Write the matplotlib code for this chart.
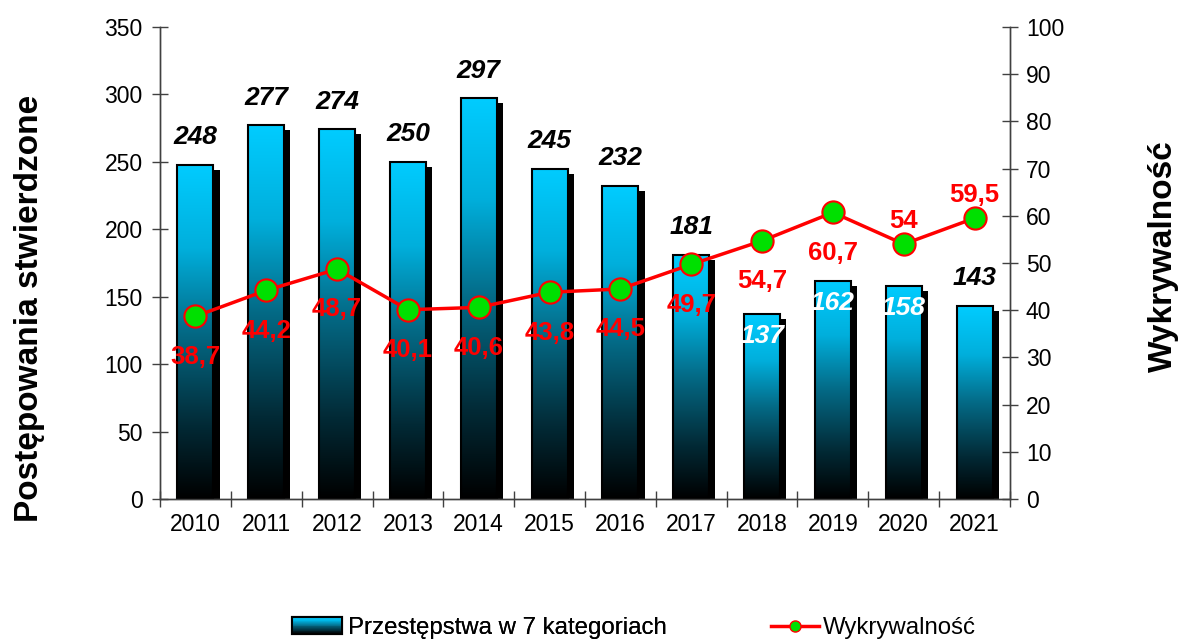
import matplotlib
matplotlib.use("Agg")
import matplotlib.pyplot as plt
import numpy as np
from matplotlib.patches import Rectangle
from matplotlib.lines import Line2D
from matplotlib.legend_handler import HandlerBase
from matplotlib.colors import LinearSegmentedColormap

plt.rcParams['font.family'] = ['Liberation Sans', 'DejaVu Sans']

years = ['2010', '2011', '2012', '2013', '2014', '2015', '2016', '2017', '2018', '2019', '2020', '2021']
crimes = [248, 277, 274, 250, 297, 245, 232, 181, 137, 162, 158, 143]
detection = [38.7, 44.2, 48.7, 40.1, 40.6, 43.8, 44.5, 49.7, 54.7, 60.7, 54, 59.5]
crime_labels = ['248', '277', '274', '250', '297', '245', '232', '181', '137', '162', '158', '143']
det_labels = ['38,7', '44,2', '48,7', '40,1', '40,6', '43,8', '44,5', '49,7', '54,7', '60,7', '54', '59,5']
inside_label = [False, False, False, False, False, False, False, False, True, True, True, False]
det_above = [False] * 10 + [True, True]

cmap = LinearSegmentedColormap.from_list(
    'barg', [(0.0, '#000000'), (0.22, '#022a36'), (0.5, '#046a86'),
             (0.75, '#00afdc'), (1.0, '#00ccff')])

fig = plt.figure(figsize=(11.91, 6.42), dpi=100)
ax = fig.add_axes([160 / 1191, 1 - 499 / 642, 850 / 1191, 472 / 642])
ax2 = ax.twinx()

axis_color = '#404040'
w = 0.51
dx = 0.085
dy = 3.7
grad = np.linspace(0, 1, 256).reshape(-1, 1)
for i, h in enumerate(crimes):
    x0 = i - w / 2
    ax.add_patch(Rectangle((x0 + dx, 0), w, h - dy, facecolor='black', edgecolor='none', zorder=1))
    ax.imshow(grad, cmap=cmap, origin='lower', aspect='auto',
              extent=[x0, x0 + w, 0, h], zorder=2, interpolation='bilinear')
    ax.add_patch(Rectangle((x0, 0), w, h, facecolor='none', edgecolor='black', linewidth=1.5, zorder=3))
    if inside_label[i]:
        ax.annotate(crime_labels[i], (i, h), xytext=(0, -16), textcoords='offset points',
                    ha='center', va='center', fontsize=19, fontweight='bold', fontstyle='italic',
                    color='white', zorder=5)
    else:
        ax.annotate(crime_labels[i], (i, h), xytext=(0, 20), textcoords='offset points',
                    ha='center', va='center', fontsize=19, fontweight='bold', fontstyle='italic',
                    color='black', zorder=5)

ax.set_xlim(-0.5, 11.5)
ax.set_ylim(0, 350)
ax.set_yticks(np.arange(0, 351, 50))
ax.set_xticks(range(len(years)))
ax.set_xticklabels(years)
ax.set_xticks(np.arange(-0.5, 12, 1), minor=True)
ax.tick_params(axis='x', which='major', length=0, pad=10, labelsize=16.5)
ax.tick_params(axis='x', which='minor', direction='inout', length=11, width=1, color=axis_color)
ax.tick_params(axis='y', direction='inout', length=11, width=1, color=axis_color, labelsize=16.5, pad=7)

ax2.plot(range(len(years)), detection, color='#ff0000', linewidth=2.5, marker='o',
         markersize=16, markerfacecolor='#00e000', markeredgecolor='#ff0000', markeredgewidth=1.5,
         zorder=4)
for i, v in enumerate(detection):
    off = 17 if det_above[i] else -29
    ax2.annotate(det_labels[i], (i, v), xytext=(0, off), textcoords='offset points',
                 ha='center', va='center', fontsize=18.5, fontweight='bold', color='#ff0000', zorder=6)
ax2.set_ylim(0, 100)
ax2.set_yticks(np.arange(0, 101, 10))
ax2.tick_params(axis='y', direction='inout', length=11, width=1, color=axis_color, labelsize=16.5, pad=6)

for a in (ax, ax2):
    a.spines['top'].set_visible(False)
    for s in ('left', 'right', 'bottom'):
        a.spines[s].set_color(axis_color)
        a.spines[s].set_linewidth(1)
ax2.set_zorder(ax.get_zorder() + 1)
ax2.patch.set_visible(False)

fig.text(30 / 1191, 1 - 308 / 642, 'Postępowania stwierdzone', rotation=90, ha='center', va='center',
         fontsize=24, fontweight='bold')
fig.text(1163 / 1191, 1 - 256 / 642, 'Wykrywalność', rotation=90, ha='center', va='center',
         fontsize=24, fontweight='bold')


class GradientHandle:
    pass


class HandlerGradient(HandlerBase):
    def create_artists(self, legend, orig_handle, xdescent, ydescent, width, height, fontsize, trans):
        arts = []
        n = 20
        for k in range(n):
            y = -ydescent + height * k / n
            arts.append(Rectangle((-xdescent, y), width, height / n + 0.3,
                                  facecolor=cmap((k + 0.5) / n), edgecolor='none', transform=trans))
        arts.append(Rectangle((-xdescent, -ydescent), width, height, facecolor='none',
                              edgecolor='black', linewidth=1.5, transform=trans))
        return arts


leg1 = fig.legend([GradientHandle()], ['Przestępstwa w 7 kategoriach'],
                  handler_map={GradientHandle: HandlerGradient()},
                  loc='center left', bbox_to_anchor=(292 / 1191, 1 - 628 / 642),
                  frameon=False, fontsize=17.3, handlelength=2.1, handleheight=0.7,
                  handletextpad=0.25, borderpad=0, borderaxespad=0)
line_handle = Line2D([], [], color='#ff0000', linewidth=2.5, marker='o', markersize=8,
                     markerfacecolor='#00e000', markeredgecolor='#ff0000')
leg2 = fig.legend([line_handle], ['Wykrywalność'], loc='center left',
                  bbox_to_anchor=(771 / 1191, 1 - 628 / 642), frameon=False, fontsize=17.3,
                  handlelength=2.0, handletextpad=0.15, borderpad=0, borderaxespad=0)
fig.add_artist(leg1)

fig.savefig('out.png', dpi=100)
